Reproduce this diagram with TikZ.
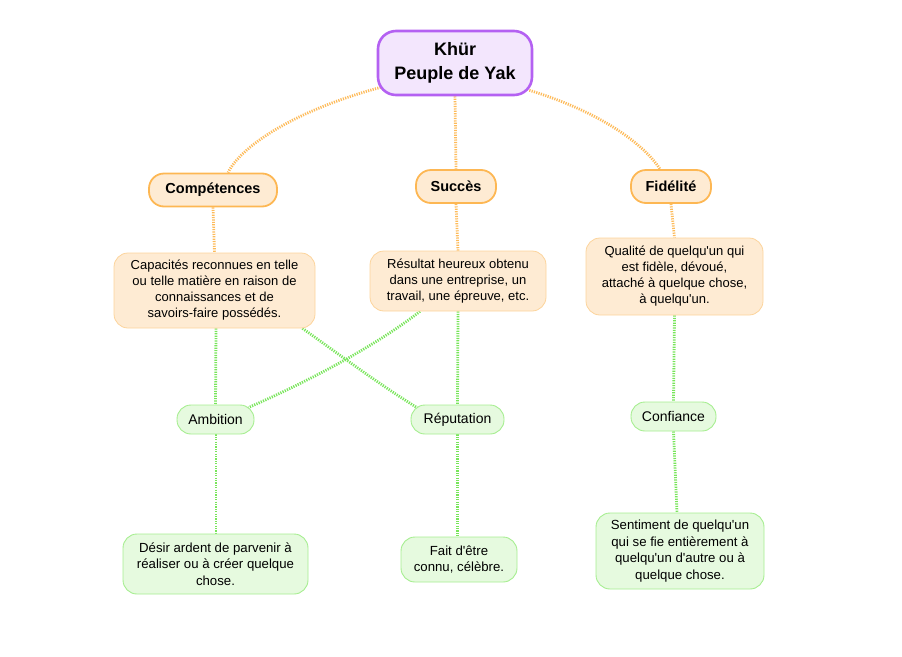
\documentclass[tikz,border=0pt]{standalone}
\usepackage{fontspec}
\setmainfont{Liberation Sans}[Ligatures=TeXOff]
\usetikzlibrary{backgrounds}
\begin{document}
\begin{tikzpicture}[x=1pt,y=-1pt,
  rootbox/.style={draw=rootline, fill=rootfill, line width=2.6pt, rounded corners=18pt, align=center, font=\fontsize{18}{23.5}\selectfont\bfseries, minimum width=154pt, minimum height=64pt, inner sep=0pt},
  topicbox/.style={draw=orline, fill=orfill, line width=1.8pt, rounded corners=15pt, font=\fontsize{14.5}{17}\selectfont\bfseries, minimum height=33pt, inner sep=0pt},
  odesc/.style={draw=orlight, fill=orfill, line width=0.8pt, rounded corners=14pt, align=center, font=\fontsize{13}{16}\selectfont, inner sep=0pt},
  gbox/.style={draw=gline, fill=gfill, line width=0.9pt, rounded corners=14pt, font=\fontsize{14}{16}\selectfont, minimum height=29pt, inner sep=0pt},
  gdesc/.style={draw=gline, fill=gfill, line width=0.9pt, rounded corners=14pt, align=center, font=\fontsize{13.2}{16.5}\selectfont, inner sep=0pt},
  olink/.style={draw=orlink, line width=2.8pt, dash pattern=on 1.2pt off 1.2pt},
  glink/.style={draw=glinkc, line width=2.8pt, dash pattern=on 1.2pt off 1.2pt}]
\definecolor{rootline}{HTML}{B461F2}
\definecolor{rootfill}{HTML}{F3E6FD}
\definecolor{orline}{HTML}{FDB753}
\definecolor{orlight}{HTML}{FCD49C}
\definecolor{orfill}{HTML}{FEEBD3}
\definecolor{orlink}{HTML}{FDBB5A}
\definecolor{gline}{HTML}{A6EE90}
\definecolor{gfill}{HTML}{E6FADF}
\definecolor{glinkc}{HTML}{78E55A}
\useasboundingbox (0,0) rectangle (902,656);

\node[rootbox] (root) at (455,63) {Khür\\Peuple de Yak};
\node[topicbox, minimum width=128pt] (comp) at (213,190) {Compétences};
\node[topicbox, minimum width=80pt] (succ) at (456,186.5) {Succès};
\node[topicbox, minimum width=80pt] (fid) at (671,186.5) {Fidélité};

\node[odesc, minimum width=201pt, minimum height=75pt] (d1) at (214.5,290.5) {Capacités reconnues en telle\\ou telle matière en raison de\\connaissances et de\\savoirs-faire possédés.};
\node[odesc, minimum width=176pt, minimum height=60pt] (d2) at (458,281) {Résultat heureux obtenu\\dans une entreprise, un\\travail, une épreuve, etc.};
\node[odesc, minimum width=177pt, minimum height=77pt] (d3) at (674.5,276.5) {Qualité de quelqu'un qui\\est fidèle, dévoué,\\attaché à quelque chose,\\à quelqu'un.};

\node[gbox, minimum width=77pt] (amb) at (215.5,419.5) {Ambition};
\node[gbox, minimum width=93pt] (rep) at (457.5,419.5) {Réputation};
\node[gbox, minimum width=85pt] (conf) at (673.5,416.5) {Confiance};

\node[gdesc, minimum width=185pt, minimum height=60pt] (g1) at (215.5,564) {Désir ardent de parvenir à\\réaliser ou à créer quelque\\chose.};
\node[gdesc, minimum width=116pt, minimum height=45pt] (g2) at (459,559.5) {Fait d'être\\connu, célèbre.};
\node[gdesc, minimum width=168pt, minimum height=76pt] (g3) at (680,551) {Sentiment de quelqu'un\\qui se fie entièrement à\\quelqu'un d'autre ou à\\quelque chose.};

\begin{scope}[on background layer]
% orange links
\path[olink] ([xshift=4pt,yshift=9pt]root.south west) .. controls (290,112) and (240,148) .. ([xshift=15pt]comp.north);
\path[olink] (root.south) -- (succ.north);
\path[olink] ([xshift=-4pt,yshift=6pt]root.south east) .. controls (610,115) and (648,150) .. ([xshift=-11pt]fid.north);
\path[olink] (comp.south) -- (d1.north);
\path[olink] (succ.south) -- (d2.north);
\path[olink] (fid.south) -- (d3.north);

% green links
\path[glink] ([xshift=1.5pt]d1.south) -- (amb.north);
\path[glink] ([xshift=88pt]d1.south) .. controls (340,355) and (380,385) .. ([xshift=8pt,yshift=-4pt]rep.north west);
\path[glink] ([xshift=-38pt]d2.south) .. controls (370,350) and (300,385) .. ([xshift=-6pt,yshift=-3pt]amb.north east);
\path[glink] (d2.south) -- (rep.north);
\path[glink] (d3.south) -- (conf.north);
\path[glink] ([xshift=0.5pt]amb.south) -- ([xshift=0.5pt]g1.north);
\path[glink] (rep.south) -- ([xshift=-1.5pt]g2.north);
\path[glink] (conf.south) -- ([xshift=-3pt]g3.north);
\end{scope}
\end{tikzpicture}
\end{document}
